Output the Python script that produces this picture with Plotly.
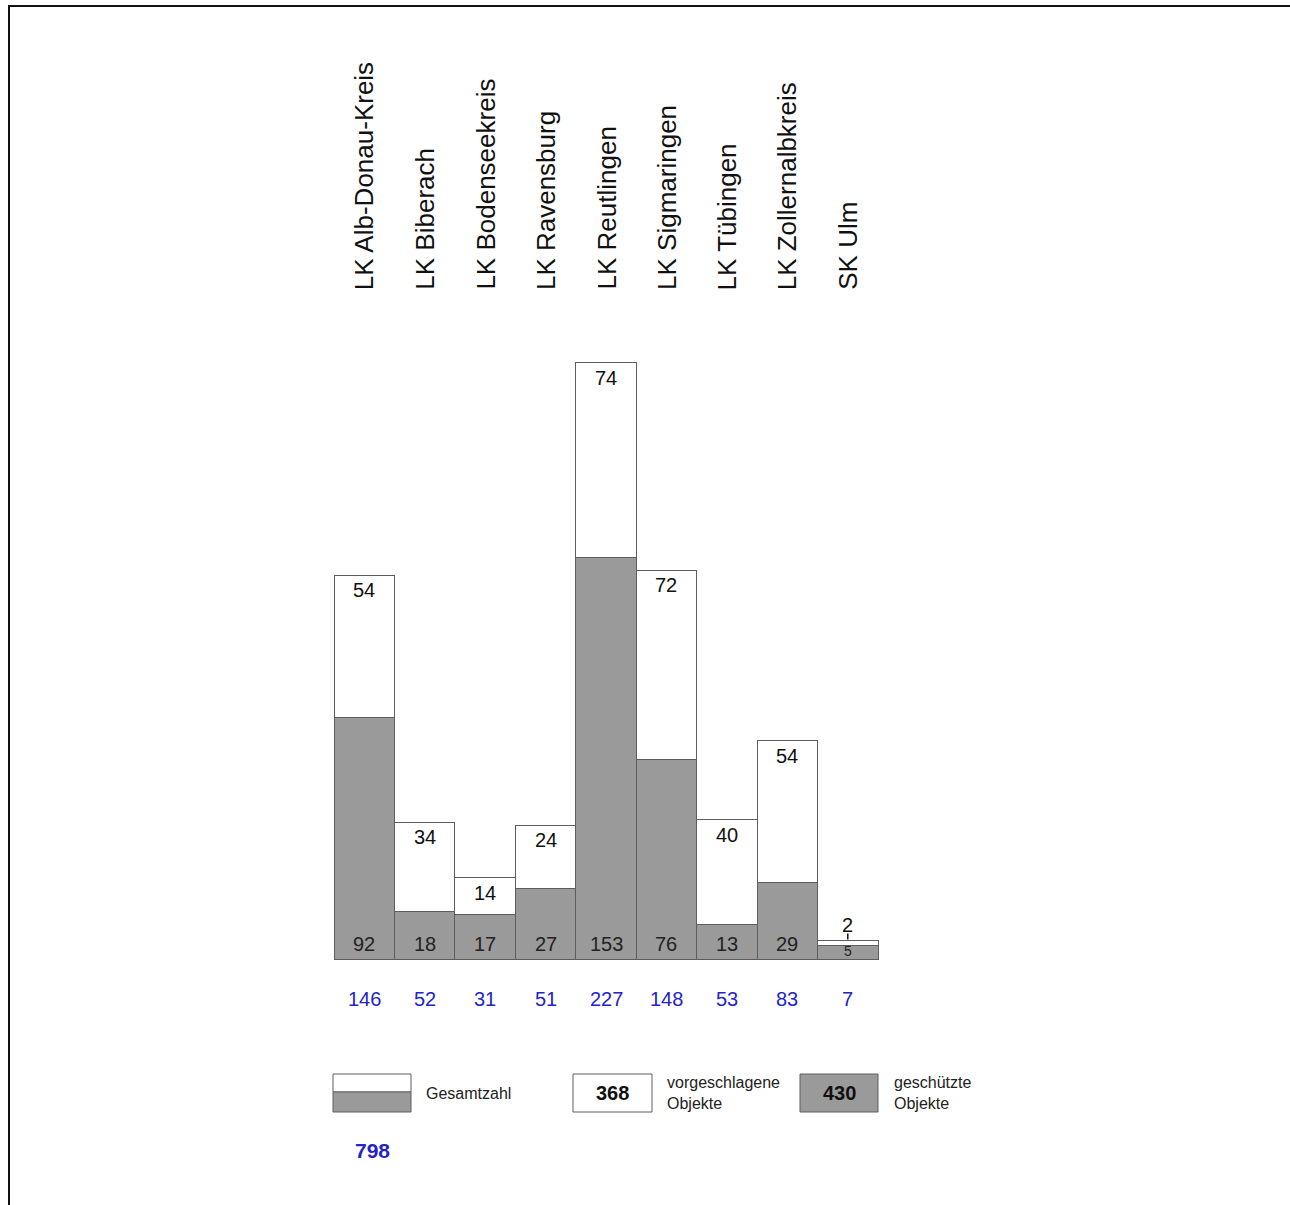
import plotly.graph_objects as go

# Schutzobjekte je Stadt-/Landkreis
districts = [
    "LK Alb-Donau-Kreis", "LK Biberach", "LK Bodenseekreis", "LK Ravensburg",
    "LK Reutlingen", "LK Sigmaringen", "LK Tübingen", "LK Zollernalbkreis", "SK Ulm",
]
protected = [92, 18, 17, 27, 153, 76, 13, 29, 5]      # geschützte Objekte
proposed = [54, 34, 14, 24, 74, 72, 40, 54, 2]        # vorgeschlagene Objekte
totals = [p + q for p, q in zip(protected, proposed)]

W, H = 1290, 1205
FONT = "Liberation Sans, Arial, sans-serif"
GRAY = "#9a9a9a"
EDGE = "#5e5e5e"
BLUE = "#2323c8"

# plotting frame: bars fill 334..878 px, baseline at 959 px
BAR_PX = (878 - 334) / len(districts)
BASE_PX = 959
UNIT_PX = 2.627
x_lo = -0.5 - 334 / BAR_PX
x_hi = x_lo + W / BAR_PX
y_hi = BASE_PX / UNIT_PX
y_lo = -(H - BASE_PX) / UNIT_PX


def px(x):
    return x / W


def py(y):
    return 1 - y / H


idx = list(range(len(districts)))

fig = go.Figure()
fig.add_trace(go.Bar(
    x=idx, y=protected, width=1, name="geschützte Objekte",
    marker=dict(color=GRAY, line=dict(color=EDGE, width=1)),
    hoverinfo="skip",
))
fig.add_trace(go.Bar(
    x=idx, y=proposed, width=1, name="vorgeschlagene Objekte",
    marker=dict(color="white", line=dict(color=EDGE, width=1)),
    hoverinfo="skip",
))

ann = []
shapes = []
for i, name in enumerate(districts):
    # district names, rotated, above the bars
    ann.append(dict(x=i, y=py(292), xref="x", yref="paper", text=name,
                    textangle=-90, xanchor="center", yanchor="bottom",
                    showarrow=False, font=dict(family=FONT, size=26, color="#111")))
    # proposed count inside the white segment, or above it when too thin
    if proposed[i] * UNIT_PX >= 30:
        ann.append(dict(x=i, y=totals[i], xref="x", yref="y", text=str(proposed[i]),
                        yanchor="middle", yshift=-15, showarrow=False,
                        font=dict(family=FONT, size=20, color="#111")))
    else:
        ann.append(dict(x=i, y=totals[i], xref="x", yref="y", text=str(proposed[i]),
                        yanchor="middle", yshift=16, showarrow=False,
                        font=dict(family=FONT, size=20, color="#111")))
        shapes.append(dict(type="line", xref="x", yref="y", x0=i, x1=i,
                           y0=totals[i] + 1 / UNIT_PX, y1=totals[i] + 7 / UNIT_PX,
                           line=dict(color="#111", width=1.5)))
    # protected count at the foot of the gray segment
    small = protected[i] * UNIT_PX < 30
    ann.append(dict(x=i, y=0, xref="x", yref="y", text=str(protected[i]),
                    yanchor="middle", yshift=8 if small else 15, showarrow=False,
                    font=dict(family=FONT, size=14 if small else 20, color="#222")))
    # district total in blue below the baseline
    ann.append(dict(x=i, y=0, xref="x", yref="y", text=str(totals[i]),
                    yanchor="middle", yshift=-40, showarrow=False,
                    font=dict(family=FONT, size=20, color=BLUE)))

# legend key: split box for the total
shapes += [
    dict(type="rect", xref="paper", yref="paper", x0=px(333), x1=px(411),
         y0=py(1092), y1=py(1074), fillcolor="white", line=dict(color=EDGE, width=1)),
    dict(type="rect", xref="paper", yref="paper", x0=px(333), x1=px(411),
         y0=py(1112), y1=py(1092), fillcolor=GRAY, line=dict(color=EDGE, width=1)),
    dict(type="rect", xref="paper", yref="paper", x0=px(573), x1=px(652),
         y0=py(1112), y1=py(1074), fillcolor="white", line=dict(color=EDGE, width=1)),
    dict(type="rect", xref="paper", yref="paper", x0=px(800), x1=px(878),
         y0=py(1112), y1=py(1074), fillcolor=GRAY, line=dict(color=EDGE, width=1)),
    # page frame
    dict(type="line", xref="paper", yref="paper", x0=px(8), x1=1, y0=py(6), y1=py(6),
         line=dict(color="#111", width=2)),
    dict(type="line", xref="paper", yref="paper", x0=px(9), x1=px(9), y0=py(6), y1=0,
         line=dict(color="#111", width=2)),
]

legend_font = dict(family=FONT, size=16, color="#222")
ann += [
    dict(x=px(424), y=py(1093), xref="paper", yref="paper", text="Gesamtzahl",
         xanchor="left", yanchor="middle", showarrow=False, font=legend_font),
    dict(x=px(612), y=py(1093), xref="paper", yref="paper", text=f"<b>{sum(proposed)}</b>",
         xanchor="center", yanchor="middle", showarrow=False,
         font=dict(family=FONT, size=20, color="#111")),
    dict(x=px(665), y=py(1093), xref="paper", yref="paper",
         text="vorgeschlagene<br>Objekte", align="left",
         xanchor="left", yanchor="middle", showarrow=False, font=legend_font),
    dict(x=px(839), y=py(1093), xref="paper", yref="paper", text=f"<b>{sum(protected)}</b>",
         xanchor="center", yanchor="middle", showarrow=False,
         font=dict(family=FONT, size=20, color="#111")),
    dict(x=px(892), y=py(1093), xref="paper", yref="paper",
         text="geschützte<br>Objekte", align="left",
         xanchor="left", yanchor="middle", showarrow=False, font=legend_font),
    dict(x=px(372), y=py(1150), xref="paper", yref="paper", text=f"<b>{sum(totals)}</b>",
         xanchor="center", yanchor="middle", showarrow=False,
         font=dict(family=FONT, size=21, color=BLUE)),
]

fig.update_layout(
    width=W, height=H, barmode="stack", showlegend=False,
    margin=dict(l=0, r=0, t=0, b=0),
    paper_bgcolor="white", plot_bgcolor="white",
    xaxis=dict(range=[x_lo, x_hi], visible=False, fixedrange=True),
    yaxis=dict(range=[y_lo, y_hi], visible=False, fixedrange=True),
    annotations=ann, shapes=shapes,
    font=dict(family=FONT),
)

fig.write_html("out.html")
